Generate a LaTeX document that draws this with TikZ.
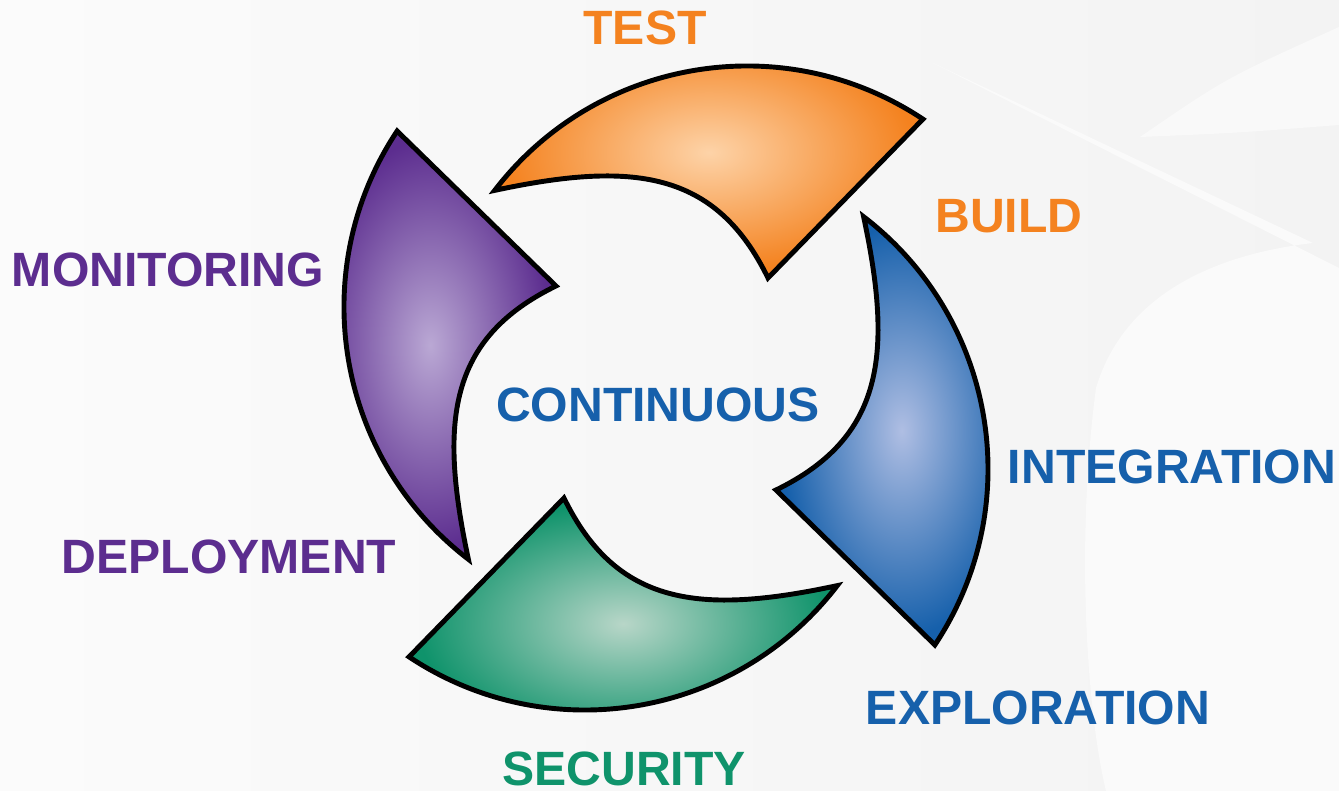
\documentclass[tikz,border=0pt]{standalone}
\usepackage{fontspec}
\setmainfont{Liberation Sans}
\usepackage{tikz}

\definecolor{testorange}{HTML}{F4821F}
\definecolor{testlight}{HTML}{FDD3A8}
\definecolor{intblue}{HTML}{1660AB}
\definecolor{intlight}{HTML}{AFBEE3}
\definecolor{secgreen}{HTML}{0F936B}
\definecolor{seclight}{HTML}{B8D6C8}
\definecolor{monpurple}{HTML}{5C2D8F}
\definecolor{monlight}{HTML}{BAA8D4}
\definecolor{bgleft}{HTML}{FBFBFB}
\definecolor{bgright}{HTML}{F3F3F3}
\pgfdeclareradialshading[glowin,glowout]{glow}{\pgfpoint{0bp}{0bp}}{color(0bp)=(glowin); color(24bp)=(glowout); color(50bp)=(glowout)}

\begin{document}
\begin{tikzpicture}[
	blade/.style={draw=black, line width=1.4pt, line join=miter, shading=glow},
	word/.style={font=\fontsize{13.7pt}{16pt}\selectfont\bfseries, inner sep=0pt}]
	% background
	\fill[left color=bgleft, right color=bgright] (-6.66,-4.03) rectangle (6.73,3.88);
	\fill[black!2.5] (4.74,2.51) .. controls (5.6,3.1) .. (6.73,3.61) -- (6.73,2.63) .. controls (5.7,2.55) .. (4.74,2.51);
	\fill[black!2] (2.67,3.25) -- (6.47,1.45) .. controls (5.6,1.35) and (4.6,1.0) .. (4.3,0.0) .. controls (4.1,-1.5) and (4.2,-3.2) .. (4.4,-4.03) -- (6.73,-4.03) -- (6.73,1.2) -- cycle;
	% the four blades
	\foreach \ang/\dark/\light in {0/testorange/testlight, -90/intblue/intlight, 180/secgreen/seclight, 90/monpurple/monlight}{
		\colorlet{glowin}{\light}\colorlet{glowout}{\dark}
		\draw[blade, rotate=\ang] (-1.713,1.976) arc[start angle=142.5, end angle=56.4, radius=3.18]
			-- (1.02,1.10) .. controls (0.494,2.179) and (-0.34,2.27) .. (-1.713,1.976) -- cycle;
	}
	% labels
	\node[word, text=testorange] (test) at (-0.21,3.60) {TEST};
	\node[word, text=testorange] (build) at (3.43,1.72) {BUILD};
	\node[word, text=monpurple] (monitoring) at (-4.98,1.18) {MONITORING};
	\node[word, text=intblue] (continuous) at (-0.08,-0.17) {CONTINUOUS};
	\node[word, text=intblue] (integration) at (5.06,-0.79) {INTEGRATION};
	\node[word, text=monpurple] (deployment) at (-4.37,-1.69) {DEPLOYMENT};
	\node[word, text=intblue] (exploration) at (3.72,-3.20) {EXPLORATION};
	\node[word, text=secgreen] (security) at (-0.42,-3.81) {SECURITY};
\end{tikzpicture}
\end{document}
